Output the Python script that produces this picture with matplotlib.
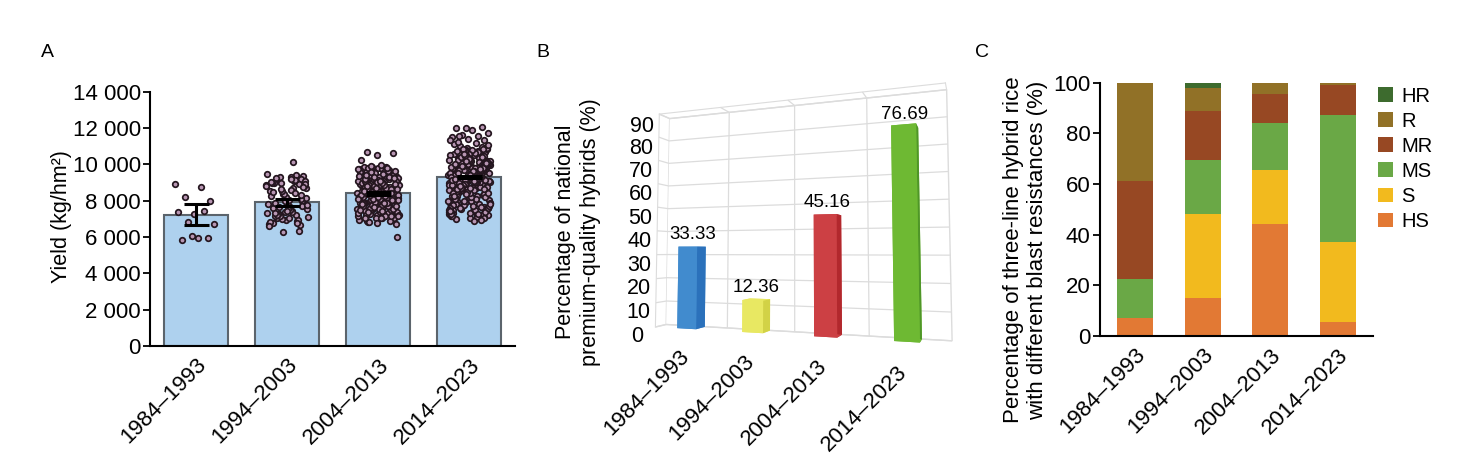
import matplotlib
matplotlib.use('Agg')
import matplotlib.pyplot as plt
import numpy as np
from matplotlib.ticker import FuncFormatter
from mpl_toolkits.mplot3d import proj3d

plt.rcParams['font.family'] = ['Liberation Sans', 'DejaVu Sans']
plt.rcParams['font.size'] = 16
plt.rcParams['grid.color'] = '#dcdcdc'
plt.rcParams['grid.linewidth'] = 0.9

periods = ['1984–1993', '1994–2003', '2004–2013', '2014–2023']

# ---- panel A : yield of hybrids per decade (kg/hm2)
yield_mean = [7220, 7920, 8420, 9300]
yield_err = [580, 200, 80, 60]

yield_1984 = [8920, 8750, 8180, 7980, 7270, 7390, 7430, 6840, 6700, 5930,
              5850, 5930, 6050]

yield_1994 = [8870, 7420, 9120, 7960, 6950, 8540, 7210, 9280, 8130, 7680,
              6780, 9010, 8350, 7340, 8720, 7050, 9350, 7850, 8260, 6890,
              8990, 7520, 8610, 7130, 9190, 7990, 6720, 8440, 7290, 9060,
              8050, 7600, 8930, 6980, 8790, 7390, 9230, 7720, 8180, 6840,
              9410, 7160, 8690, 7470, 8950, 6650, 8380, 7810, 9100, 7250,
              8820, 7560, 9000, 6910, 8560, 7080, 9300, 7900, 8090, 7370,
              6580, 9150, 7640, 8900, 7020, 8470, 6330, 6290, 9450, 10150,
              7190, 8760, 7440, 9040, 6760, 8640, 7750, 9170, 7310, 8300]

yield_2004 = [8420, 7650, 9310, 8060, 7190, 9680, 8750, 7420, 9020, 8230,
              7880, 9510, 8590, 6960, 9140, 8370, 7560, 9790, 8810, 7300,
              9230, 8140, 7740, 9600, 8480, 7050, 8930, 9420, 7970, 8660,
              7380, 9870, 8290, 7610, 9080, 8530, 6850, 9350, 8000, 7820,
              9540, 8710, 7240, 8960, 9190, 7490, 8350, 9720, 7930, 8620,
              7110, 9280, 8190, 7700, 9460, 8880, 7340, 9050, 8440, 6780,
              9630, 8090, 7590, 9380, 8570, 7900, 8780, 9160, 7160, 8320,
              9820, 7460, 8690, 9000, 7790, 8510, 9250, 7020, 8990, 8150,
              7630, 9560, 8400, 7270, 9110, 8840, 7850, 9700, 8250, 7530,
              8960, 6900, 9440, 8620, 7680, 9320, 8050, 7400, 9060, 8730,
              7980, 9500, 8210, 7130, 8870, 9640, 7560, 8460, 9200, 7760,
              8340, 9750, 7210, 8590, 9030, 7880, 8680, 9410, 6740, 8110,
              7510, 9290, 8800, 7340, 9570, 8380, 7060, 9150, 8520, 7720,
              9860, 8020, 7440, 9090, 8650, 7950, 9370, 8270, 6830, 8910,
              8460, 7710, 9330, 8120, 7230, 9480, 8810, 7520, 9020, 8290,
              7900, 9590, 8640, 7070, 9170, 8410, 7640, 9720, 8870, 7380,
              9260, 8180, 7800, 9650, 8500, 7150, 8980, 9390, 8020, 8700,
              7460, 9830, 8330, 7690, 9100, 8560, 6880, 9290, 8070, 7850,
              10690, 10640, 10520, 10240, 9800, 9910, 6020, 9950, 7020, 7180]

yield_2014 = [9420, 8870, 10310, 7650, 9980, 8240, 10760, 9150, 7190, 9630,
              8510, 10090, 9270, 7880, 9740, 10540, 8650, 7020, 9510, 8990,
              10220, 9060, 7430, 9850, 8330, 10880, 9340, 8760, 7560, 10150,
              9680, 8420, 9210, 10410, 7280, 9560, 8930, 10670, 8080, 9790,
              9380, 7750, 10020, 8590, 9120, 10960, 7930, 9460, 8710, 10330,
              9910, 7340, 8480, 9590, 10610, 9010, 8160, 9720, 7080, 10270,
              9290, 8820, 10480, 7610, 9860, 8380, 9180, 10790, 8950, 7470,
              9640, 10120, 8550, 9340, 7820, 10580, 9070, 8690, 9950, 7240,
              10370, 9480, 8260, 9760, 10850, 7990, 9230, 8800, 10060, 7380,
              9620, 8460, 10450, 9100, 7700, 9870, 8610, 10190, 9360, 6980,
              8910, 10710, 9540, 8120, 9820, 7520, 10280, 9000, 8740, 9690,
              7860, 10500, 9260, 8370, 10040, 7150, 9580, 8980, 10920, 8200,
              9430, 7640, 10160, 8840, 9730, 10630, 7400, 9170, 8520, 10350,
              9890, 8050, 9500, 7960, 10820, 8680, 9310, 7200, 10080, 9610,
              8400, 10560, 9040, 7790, 9940, 8580, 10240, 7050, 9400, 8860,
              10690, 9190, 7580, 9800, 8300, 10430, 9080, 7910, 9660, 10990,
              8630, 9330, 7320, 10110, 8940, 9520, 7730, 10740, 9250, 8470,
              9840, 7110, 10390, 8780, 9450, 10010, 6920, 9140, 8570, 10620,
              9700, 8180, 10300, 7480, 9600, 8900, 11060, 9280, 7840, 9960,
              8350, 10520, 9020, 7620, 9780, 8720, 11120, 9390, 8010, 10180,
              6880, 9550, 8640, 10460, 9130, 7260, 9920, 8440, 10800, 9220,
              9470, 8920, 10260, 9810, 8610, 9150, 10580, 7770, 9360, 8890,
              10030, 9520, 8240, 9690, 10410, 7360, 9010, 8750, 9930, 10170,
              8460, 9280, 10720, 7990, 9640, 8570, 9840, 10340, 7130, 9210,
              8680, 10090, 9430, 8150, 9760, 10500, 7590, 9070, 8830, 9990,
              10240, 8390, 9330, 10640, 7880, 9580, 8510, 9890, 10380, 7290,
              9120, 8700, 10140, 9490, 8080, 9710, 10470, 7510, 9040, 8960,
              9960, 10290, 8430, 9260, 10840, 7700, 9620, 8620, 9780, 10210,
              7420, 9180, 8790, 10060, 9400, 8280, 9730, 10550, 7810, 9090,
              11250, 11320, 11410, 11480, 11550, 11640, 11730, 11890, 11980, 12070,
              12010, 11360, 11190, 11580]

yield_points = [yield_1984, yield_1994, yield_2004, yield_2014]

# ---- panel B : share of national premium-quality hybrids (%)
premium_share = [33.33, 12.36, 45.16, 76.69]
premium_front = ['#418bce', '#e8e862', '#cc4044', '#6eb933']
premium_side = ['#2b71bb', '#d2d246', '#b2282d', '#4f9628']

# ---- panel C : blast resistance classes (%), bottom to top
blast_classes = ['HS', 'S', 'MS', 'MR', 'R', 'HR']
blast_hs = [7.1, 15.1, 44.2, 5.4]
blast_s = [0.0, 32.9, 21.5, 31.7]
blast_ms = [15.4, 21.5, 18.5, 50.1]
blast_mr = [38.7, 19.3, 11.3, 11.9]
blast_r = [38.8, 9.0, 4.5, 0.9]
blast_hr = [0.0, 2.2, 0.0, 0.0]
blast_colors = ['#e27934', '#f2ba1e', '#6aa846', '#974823', '#917127', '#3d6b2e']

fig = plt.figure(figsize=(14.71, 4.65), dpi=100)

# ================= B (3D bars, added first so it sits underneath)
axB = fig.add_axes([0.389, 0.0225, 0.29, 1.0], projection='3d')
axB.patch.set_visible(False)
axB.set_proj_type('persp', focal_length=0.22)
axB.view_init(elev=-4, azim=-70)
axB.set_box_aspect((3.0, 0.2, 2.3), zoom=0.865)
xb = np.arange(len(premium_share))
# face order of bar3d: -z, +z, -y, +y, -x, +x
face_cols = []
for fc, sc in zip(premium_front, premium_side):
    face_cols += [fc, fc, fc, fc, fc, sc]
axB.bar3d(xb - 0.15, 0.05, 0, 0.3, 0.9, premium_share,
          color=face_cols, shade=False)
axB.set_xlim(-0.5, 3.5)
axB.set_ylim(0, 1)
axB.set_zlim(0, 90)
axB.set_xticks([0.5, 1.5, 2.5])
axB.set_xticklabels([])
axB.set_yticks([])
axB.set_zticks(range(0, 91, 10))
for a in (axB.xaxis, axB.yaxis, axB.zaxis):
    a.set_pane_color((1, 1, 1, 1))
    a.pane.set_edgecolor('#dcdcdc')
    a.line.set_color('#dcdcdc')
    a._axinfo['tick']['inward_factor'] = 0
    a._axinfo['tick']['outward_factor'] = 0
axB.zaxis.pane.set_visible(False)
axB.zaxis.set_ticks_position('lower')
axB.zaxis.set_label_position('lower')
axB.zaxis.set_tick_params(labelsize=15.5)
M = axB.get_proj()
for i, v in enumerate(premium_share):
    axB.text(i, 0.5, v + 1.5, f'{v:.2f}', ha='center', va='bottom',
             fontsize=13.5, zdir=None)
    # category label under each bar, projected to the 2D plane
    px, py, _ = proj3d.proj_transform(i - 0.12, 0.0, -7, M)
    axB.text2D(px, py, periods[i], transform=axB.transData, rotation=45,
               ha='right', va='top', rotation_mode='anchor')
fig.text(578 / 1471, 1 - 232 / 465,
         'Percentage of national\npremium-quality hybrids (%)',
         rotation=90, ha='center', va='center', multialignment='center',
         linespacing=1.2, fontsize=15.5)

# ================= A
axA = fig.add_axes([150 / 1471, 1 - 346 / 465, 365 / 1471, 254.3 / 465])
xa = np.arange(len(periods))
axA.bar(xa, yield_mean, width=0.7, color='#aed1ee', edgecolor='#5b646c',
        linewidth=1.5, zorder=1)
for i, pts in enumerate(yield_points):
    off = ((np.arange(len(pts)) * 0.618034) % 1 - 0.5) * 0.46
    axA.scatter(i + off, pts, s=16, facecolor='#b896b3', edgecolor='#24161f',
                linewidth=1.25, zorder=2)
axA.errorbar(xa, yield_mean, yerr=yield_err, fmt='none', ecolor='black',
             elinewidth=2.2, capsize=9, capthick=2.2, zorder=3)
axA.set_xlim(-0.5, 3.5)
axA.set_ylim(0, 14000)
axA.set_yticks(range(0, 14001, 2000))
axA.yaxis.set_major_formatter(FuncFormatter(lambda v, p: f'{int(v):,}'.replace(',', ' ')))
axA.set_xticks(xa, periods, rotation=45, ha='right', rotation_mode='anchor')
axA.tick_params(axis='x', length=0, pad=6)
axA.tick_params(axis='y', length=5, width=1.3, pad=1.5)
for side in ('top', 'right'):
    axA.spines[side].set_visible(False)
for side in ('left', 'bottom'):
    axA.spines[side].set_linewidth(1.5)
axA.set_ylabel('Yield (kg/hm²)', fontsize=15.5)
axA.yaxis.set_label_coords(-0.215, 0.51)

# ================= C
axC = fig.add_axes([1100 / 1471, 1 - 336 / 465, 273 / 1471, 253.3 / 465])
xc = np.arange(len(periods))
bottom = np.zeros(len(periods))
for name, vals, col in zip(blast_classes,
                           [blast_hs, blast_s, blast_ms, blast_mr, blast_r, blast_hr],
                           blast_colors):
    axC.bar(xc, vals, bottom=bottom, width=0.53, color=col, label=name)
    bottom += np.array(vals)
axC.set_xlim(-0.52, 3.52)
axC.set_ylim(0, 100)
axC.set_yticks(range(0, 101, 20))
axC.set_xticks(xc, periods, rotation=45, ha='right', rotation_mode='anchor')
axC.tick_params(axis='x', length=0, pad=6)
axC.tick_params(axis='y', length=5, width=1.3, pad=2)
for side in ('top', 'right'):
    axC.spines[side].set_visible(False)
for side in ('left', 'bottom'):
    axC.spines[side].set_linewidth(1.5)
axC.set_ylabel('Percentage of three-line hybrid rice\nwith different blast resistances (%)',
               linespacing=1.2)
axC.yaxis.set_label_coords(-0.19, 0.34)
h, l = axC.get_legend_handles_labels()
axC.legend(h[::-1], l[::-1], loc='upper left', bbox_to_anchor=(1.018, 0.984),
           frameon=False, fontsize=14.5, handlelength=0.75, handleheight=0.75,
           handletextpad=0.4, labelspacing=0.3, borderaxespad=0, borderpad=0)

# panel letters
fig.text(41 / 1471, 1 - 44 / 465, 'A', fontsize=14, va='top')
fig.text(536 / 1471, 1 - 44 / 465, 'B', fontsize=14, va='top')
fig.text(975 / 1471, 1 - 44 / 465, 'C', fontsize=14, va='top')

fig.savefig('out.png', dpi=100)
